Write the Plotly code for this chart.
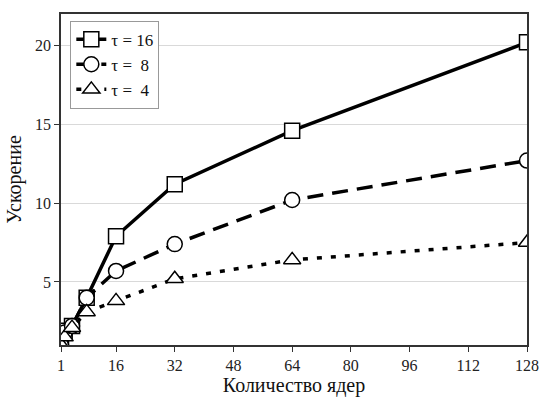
import plotly.graph_objects as go

cores = [1, 2, 4, 8, 16, 32, 64, 128]
tau16 = [1.0, 1.9, 2.2, 4.0, 7.9, 11.2, 14.6, 20.2]
tau8 = [1.0, 1.8, 2.2, 4.0, 5.7, 7.4, 10.2, 12.7]
tau4 = [1.0, 1.5, 2.1, 3.1, 3.8, 5.2, 6.4, 7.5]
x_ticks = [1, 16, 32, 48, 64, 80, 96, 112, 128]
y_ticks = [5, 10, 15, 20]

font = "Liberation Serif, Times New Roman, serif"

fig = go.Figure()
series = [
    ("τ = 16", tau16, "solid", "square"),
    ("τ =  8", tau8, "16px,9px", "circle"),
    ("τ =  4", tau4, "5px,9px", "triangle-up"),
]
for name, vals, dash, sym in series:
    fig.add_trace(go.Scatter(
        x=cores, y=vals, name=name, mode="lines+markers",
        line=dict(color="black", width=3.5, dash=dash),
        marker=dict(symbol=sym, size=15, color="white",
                    line=dict(color="black", width=1.5)),
        cliponaxis=True,
    ))

fig.update_layout(
    width=551, height=403,
    margin=dict(l=61, r=14, t=13, b=52),
    paper_bgcolor="white", plot_bgcolor="white",
    font=dict(family=font, size=15, color="#222"),
    showlegend=True,
    legend=dict(x=0.02, y=0.98, xanchor="left", yanchor="top",
                bordercolor="#999", borderwidth=1, bgcolor="white",
                font=dict(family=font, size=17, color="#111"),
                tracegroupgap=0, itemwidth=30),
    xaxis=dict(range=[1, 128], tickvals=x_ticks, ticktext=[str(v) for v in x_ticks],
               showgrid=False, zeroline=False,
               showline=True, linecolor="#333", linewidth=1.5, mirror=True,
               ticks="outside", ticklen=5, tickcolor="#333",
               tickfont=dict(family=font, size=16, color="#222"),
               title=dict(text="Количество ядер", font=dict(family=font, size=20, color="#111"), standoff=3)),
    yaxis=dict(range=[1, 22], tickvals=y_ticks,
               showgrid=True, gridcolor="#d9d9d9", gridwidth=1, zeroline=False,
               showline=True, linecolor="#333", linewidth=1.5, mirror=True,
               ticks="outside", ticklen=5, tickcolor="#333",
               tickfont=dict(family=font, size=16, color="#222"),
               title=dict(text="Ускорение", font=dict(family=font, size=20, color="#111"), standoff=8)),
)

fig.write_html("out.html")
